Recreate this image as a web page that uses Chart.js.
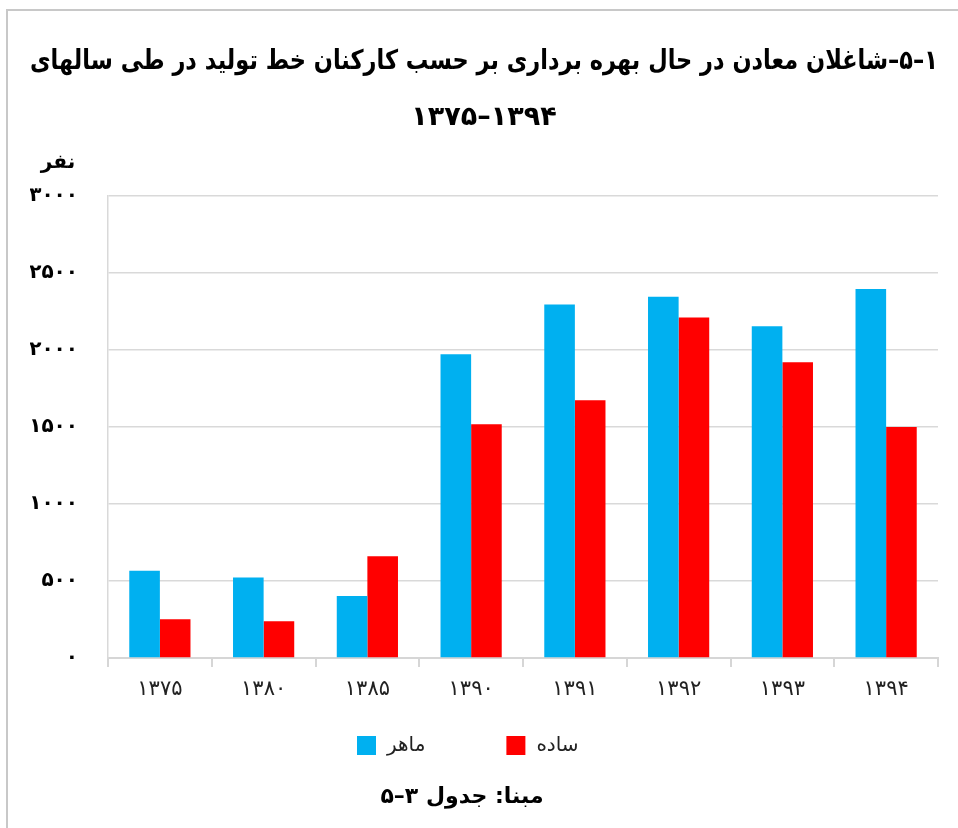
<!DOCTYPE html>
<html lang="fa">
<head>
<meta charset="UTF-8">
<title>شاغلان معادن در حال بهره برداری</title>
<style>
	body { margin: 0; background: #fff; }
	#wrap { position: relative; width: 958px; height: 828px; }
	#frame { position: absolute; left: 6px; top: 9px; right: 0; bottom: 0; border-left: 2px solid #c8c8c8; border-top: 2px solid #c8c8c8; }
	#chart { position: absolute; left: 0; top: 0; }
</style>
</head>
<body>
<div id="wrap">
	<div id="frame"></div>
	<canvas id="chart" width="958" height="828" dir="rtl"></canvas>
</div>

<script src="https://cdn.jsdelivr.net/npm/chart.js"></script>
<script>
// data
const years = ['۱۳۷۵', '۱۳۸۰', '۱۳۸۵', '۱۳۹۰', '۱۳۹۱', '۱۳۹۲', '۱۳۹۳', '۱۳۹۴'];
const maher = [567, 522, 402, 1972, 2296, 2346, 2154, 2396];
const sade = [252, 239, 661, 1518, 1674, 2211, 1920, 1500];
const seriesNames = ['ماهر', 'ساده'];
const seriesColors = ['#00B0F0', '#FF0000'];

const titleLines = [
	'۱–۵–شاغلان معادن در حال بهره برداری بر حسب کارکنان خط تولید در طی سالهای',
	'۱۳۹۴–۱۳۷۵'
];
const unitLabel = 'نفر';
const sourceText = 'مبنا: جدول ۳–۵';

const FONT = "'DejaVu Sans', sans-serif";
const faDigits = '۰۱۲۳۴۵۶۷۸۹';
function toFa(n) {
	return String(n).replace(/\d/g, d => faDigits[d]);
}

// unit label, legend and source line
const extras = {
	id: 'extras',
	afterDraw(chart) {
		const ctx = chart.ctx;
		const area = chart.chartArea;
		ctx.save();
		ctx.fillStyle = '#000';
		ctx.textBaseline = 'middle';

		ctx.font = 'bold 20px ' + FONT;
		ctx.textAlign = 'center';
		ctx.fillText(unitLabel, area.left - 50, area.top - 33);

		// legend
		ctx.font = '20px ' + FONT;
		ctx.textAlign = 'left';
		ctx.direction = 'ltr';
		let x = area.left + 249;
		const y = area.bottom + 87;
		chart.data.datasets.forEach(ds => {
			ctx.fillStyle = ds.backgroundColor;
			ctx.fillRect(x, y - 9, 19, 19);
			ctx.fillStyle = '#222';
			ctx.fillText(ds.label, x + 30, y + 1);
			x += 30 + ctx.measureText(ds.label).width + 81;
		});

		ctx.direction = 'rtl';
		ctx.font = 'bold 22px ' + FONT;
		ctx.fillStyle = '#000';
		ctx.textAlign = 'center';
		ctx.fillText(sourceText, 462, area.bottom + 139);
		ctx.restore();
	}
};

new Chart(document.getElementById('chart'), {
	type: 'bar',
	data: {
		labels: years,
		datasets: [
			{ label: seriesNames[0], data: maher, backgroundColor: seriesColors[0] },
			{ label: seriesNames[1], data: sade, backgroundColor: seriesColors[1] }
		]
	},
	options: {
		responsive: false,
		animation: false,
		events: [],
		layout: { padding: { left: 30, right: 20, top: 0, bottom: 126 } },
		datasets: {
			bar: { categoryPercentage: 0.59, barPercentage: 1.0, borderWidth: 0 }
		},
		plugins: {
			legend: { display: false },
			tooltip: { enabled: false },
			title: {
				display: true,
				text: titleLines,
				color: '#000',
				font: { family: FONT, size: 27, weight: 'bold', lineHeight: 2.074 },
				padding: { top: 34, bottom: 50 }
			}
		},
		scales: {
			x: {
				grid: { drawOnChartArea: false, tickLength: 9, color: '#d6d6d6', lineWidth: 2 },
				border: { color: '#d6d6d6', width: 2 },
				ticks: { color: '#222', padding: 10, font: { family: FONT, size: 21 } },
				afterFit(s) { s.height = 44; }
			},
			y: {
				min: 0,
				max: 3000,
				grid: { drawTicks: false, color: '#d9d9d9', lineWidth: 1.5 },
				border: { color: '#d9d9d9', width: 1.5 },
				ticks: {
					stepSize: 500,
					padding: 30,
					color: '#000',
					font: { family: FONT, size: 20, weight: 'bold' },
					callback: v => toFa(v)
				},
				afterFit(s) { s.width = 78; }
			}
		}
	},
	plugins: [extras]
});
</script>
</body>
</html>
